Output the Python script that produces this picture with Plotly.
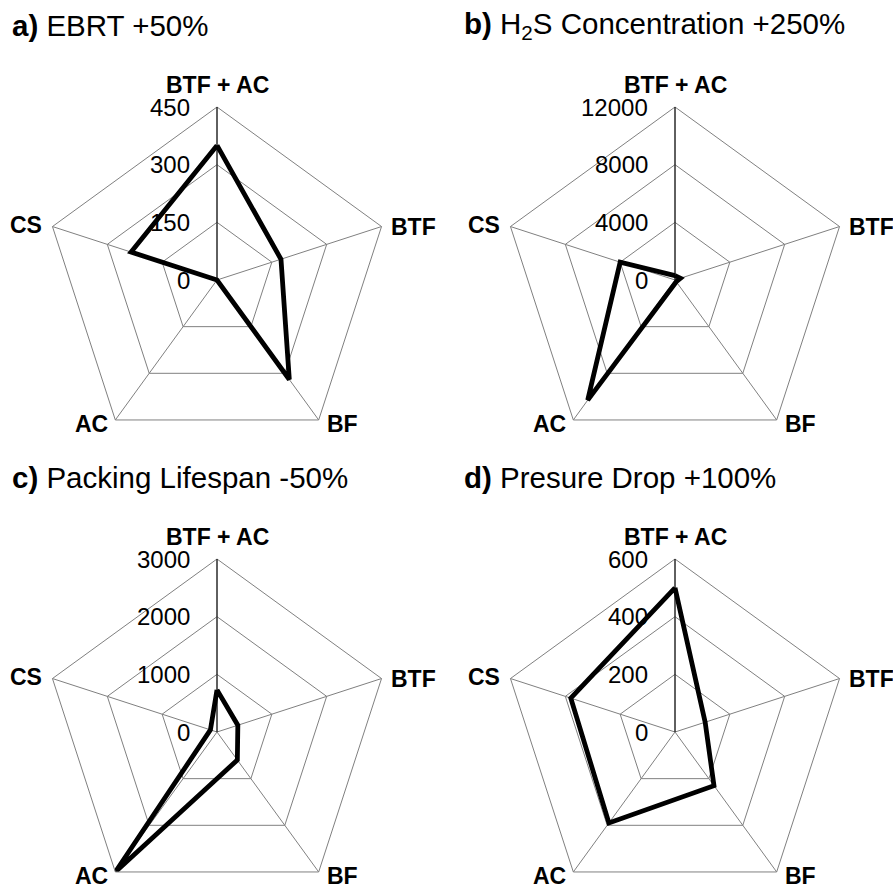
import math
import plotly.graph_objects as go

# Treatment options around each radar, clockwise from the top
categories = ["BTF + AC", "BTF", "BF", "AC", "CS"]

# Values under each sensitivity scenario
ebrt_values = [350, 175, 320, 0, 235]
h2s_values = [300, 400, 150, 10300, 4000]
lifespan_values = [730, 380, 600, 3000, 120]
pressure_values = [500, 110, 230, 390, 380]

# Radial tick labels per panel
ebrt_ticks = [0, 150, 300, 450]
h2s_ticks = [0, 4000, 8000, 12000]
lifespan_ticks = [0, 1000, 2000, 3000]
pressure_ticks = [0, 200, 400, 600]

titles = [
    "<b>a)</b> EBRT +50%",
    "<b>b)</b> H<sub>2</sub>S Concentration +250%",
    "<b>c)</b> Packing Lifespan -50%",
    "<b>d)</b> Presure Drop +100%",
]

W, H = 893, 910
R = 173  # radar radius in px
FONT = "Liberation Sans, Arial, sans-serif"
GRID = "#808080"

panels = [
    (ebrt_values, ebrt_ticks, 217, 280),
    (h2s_values, h2s_ticks, 675, 280),
    (lifespan_values, lifespan_ticks, 217, 732),
    (pressure_values, pressure_ticks, 675, 732),
]

# label offset (dx, dy, xanchor) for each spoke, clockwise from the top
label_offsets = [(0, -22, "center"), (7, 0, "left"), (6, 4, "left"),
                 (-5, 4, "right"), (-8, -2, "right")]

fig = go.Figure()
layout_polars = {}
annotations = []
for i, (vals, ticks, cx, cy) in enumerate(panels):
    name = "polar" if i == 0 else f"polar{i + 1}"
    fig.add_trace(go.Scatterpolar(
        r=vals + vals[:1],
        theta=categories + categories[:1],
        mode="lines",
        line=dict(color="black", width=4.8),
        subplot=name,
        showlegend=False,
        hoverinfo="skip",
    ))
    yc = H - cy
    layout_polars[name] = dict(
        domain=dict(x=[(cx - R) / W, (cx + R) / W], y=[(yc - R) / H, (yc + R) / H]),
        gridshape="linear",
        bgcolor="white",
        radialaxis=dict(
            range=[0, ticks[-1]],
            tickvals=ticks,
            angle=90,
            showline=True,
            linecolor="black",
            linewidth=1,
            showgrid=True,
            gridcolor=GRID,
            gridwidth=1,
            ticks="",
            showticklabels=False,
        ),
        angularaxis=dict(
            direction="clockwise",
            rotation=90,
            showline=True,
            linecolor=GRID,
            linewidth=1,
            showgrid=True,
            gridcolor=GRID,
            gridwidth=1,
            ticks="",
            showticklabels=False,
        ),
    )
    # category names at the outer corners of the pentagon
    for k, cat in enumerate(categories):
        ang = math.radians(90 - 360 / len(categories) * k)
        vx = cx + R * math.cos(ang)
        vy = cy - R * math.sin(ang)
        dx, dy, anchor = label_offsets[k]
        annotations.append(dict(
            text=f"<b>{cat}</b>", x=(vx + dx) / W, y=1 - (vy + dy) / H,
            xref="paper", yref="paper", xanchor=anchor, yanchor="middle",
            showarrow=False, font=dict(family=FONT, size=23, color="black"),
        ))
    # horizontal radial tick labels to the left of the vertical axis
    for t in ticks:
        ty = cy - R * t / ticks[-1]
        annotations.append(dict(
            text=str(t), x=(cx - 25) / W, y=1 - ty / H,
            xref="paper", yref="paper", xanchor="right", yanchor="middle",
            showarrow=False, font=dict(family=FONT, size=24, color="black"),
        ))

title_pos = [(10, 25), (462, 25), (10, 477), (462, 477)]
for text, (x, y) in zip(titles, title_pos):
    annotations.append(dict(
        text=text, x=x / W, y=1 - y / H, xref="paper", yref="paper",
        xanchor="left", yanchor="middle", showarrow=False,
        font=dict(family=FONT, size=29.5, color="black"),
    ))

fig.update_layout(
    width=W, height=H,
    margin=dict(l=0, r=0, t=0, b=0),
    paper_bgcolor="white",
    plot_bgcolor="white",
    annotations=annotations,
    **layout_polars,
)

fig.write_html(
    "out.html",
    post_script="document.documentElement.style.overflow='hidden';document.body.style.overflow='hidden';",
)
